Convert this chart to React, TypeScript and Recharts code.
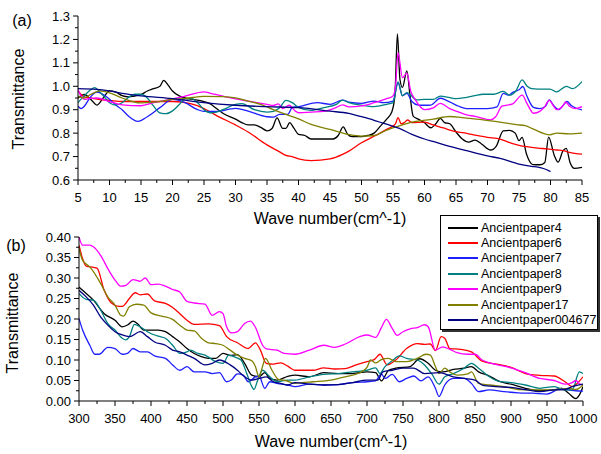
import React from 'react';
import { LineChart, Line, XAxis, YAxis, Legend, Label } from 'recharts';

type P = [number, number];
const FONT = '"Liberation Sans", Arial, Helvetica, sans-serif';

const seriesNames = ['Ancientpaper4', 'Ancientpaper6', 'Ancientpaper7', 'Ancientpaper8', 'Ancientpaper9', 'Ancientpaper17', 'Ancientpaper004677'];
const seriesColors = ['#000000', '#FF0000', '#1E1EFF', '#008080', '#FF00FF', '#808000', '#000080'];

// ---------- panel (a) ----------
const topXTicks = [5, 7.5, 10, 12.5, 15, 17.5, 20, 22.5, 25, 27.5, 30, 32.5, 35, 37.5, 40, 42.5, 45, 47.5, 50, 52.5, 55, 57.5, 60, 62.5, 65, 67.5, 70, 72.5, 75, 77.5, 80, 82.5, 85];
const topXLabels = [5, 10, 15, 20, 25, 30, 35, 40, 45, 50, 55, 60, 65, 70, 75, 80, 85];
const topYTicks = [0.6, 0.65, 0.7, 0.75, 0.8, 0.85, 0.9, 0.95, 1.0, 1.05, 1.1, 1.15, 1.2, 1.25, 1.3];
const topYLabels = [0.6, 0.7, 0.8, 0.9, 1.0, 1.1, 1.2, 1.3];

const a4: P[] = [[5,0.95],[6,0.965],[7,0.945],[8,0.92],[9,0.95],[10,0.98],[11,0.975],[12,0.96],[13,0.955],[15,0.965],[16,0.98],[17,0.99],[18,1.0],[18.6,1.025],[19.3,1.005],[20,0.98],[21,0.96],[22,0.95],[23,0.945],[25,0.935],[26,0.925],[27,0.905],[28,0.885],[30,0.86],[31,0.845],[32,0.835],[33,0.835],[34,0.825],[35,0.81],[35.8,0.82],[36.6,0.865],[37.5,0.82],[38,0.82],[38.6,0.845],[39.3,0.82],[40,0.795],[41,0.79],[42,0.775],[44,0.775],[45.5,0.775],[46.3,0.79],[47.1,0.827],[47.8,0.795],[48.5,0.785],[50,0.785],[51,0.79],[52,0.8],[53,0.83],[54,0.86],[54.8,0.89],[55.3,0.96],[55.7,1.224],[56.1,1.03],[56.5,0.995],[57.2,1.066],[57.7,0.96],[58.2,0.873],[59,0.86],[60,0.844],[61,0.823],[61.8,0.84],[62.5,0.863],[63.2,0.845],[64,0.84],[65,0.805],[66,0.775],[67,0.762],[68,0.77],[69,0.755],[70.5,0.728],[71.4,0.745],[72.5,0.81],[73.5,0.812],[74.4,0.8],[75,0.768],[75.5,0.782],[76.2,0.71],[77.2,0.666],[78.3,0.665],[79.1,0.675],[79.7,0.783],[80.6,0.705],[81.2,0.676],[82,0.725],[82.5,0.735],[83.1,0.675],[83.8,0.65],[85,0.654]];
const a6: P[] = [[5,0.98],[5.5,0.965],[6,0.955],[7,0.95],[8,0.945],[10,0.94],[12,0.935],[15,0.935],[20,0.935],[23,0.925],[25,0.905],[27,0.875],[30,0.835],[32,0.805],[35,0.75],[37,0.72],[38,0.705],[39,0.7],[40,0.69],[42,0.683],[45,0.69],[47,0.709],[48,0.723],[50,0.759],[52,0.787],[54,0.816],[55,0.83],[55.4,0.84],[55.8,0.866],[56.3,0.84],[56.8,0.845],[57.3,0.856],[58,0.845],[60,0.847],[61.4,0.835],[63,0.822],[65,0.806],[66.7,0.799],[68,0.792],[70,0.782],[72,0.774],[73,0.765],[74,0.755],[75,0.748],[76.2,0.742],[78,0.736],[79.4,0.733],[81,0.728],[82,0.725],[83,0.718],[85,0.71]];
const a7: P[] = [[5,0.915],[5.5,0.905],[6,0.915],[7,0.955],[8,0.975],[9,0.965],[10,0.945],[11,0.92],[12,0.9],[13,0.873],[14.5,0.85],[16,0.87],[18,0.909],[20,0.944],[22,0.93],[24,0.9],[25,0.893],[27,0.893],[30,0.906],[32,0.894],[35,0.87],[36,0.868],[37,0.88],[38.3,0.88],[39,0.909],[40,0.913],[43,0.93],[45,0.923],[47,0.941],[48,0.932],[50,0.927],[52,0.937],[53.5,0.93],[55,0.937],[55.8,1.016],[56.5,0.959],[57.2,0.97],[58,0.935],[59,0.92],[60,0.919],[61,0.92],[62.5,0.949],[63.5,0.94],[65,0.92],[66.7,0.905],[68,0.905],[70,0.905],[71.5,0.912],[72.5,0.97],[73.3,0.962],[74,0.974],[75,0.985],[75.6,0.999],[76.3,0.955],[77.3,0.91],[78.3,0.905],[79.2,0.915],[79.8,0.942],[80.5,0.918],[81.3,0.9],[82,0.918],[82.6,0.935],[83.3,0.918],[85,0.899]];
const a8: P[] = [[5,0.93],[6,0.96],[7,0.985],[7.6,0.994],[8.5,0.975],[9,0.96],[10,0.93],[11,0.92],[12,0.93],[13,0.952],[14,0.966],[15,0.966],[16,0.95],[17,0.915],[18,0.887],[19,0.883],[20,0.895],[21,0.92],[22,0.946],[23,0.947],[24,0.93],[25,0.9],[26,0.887],[27,0.89],[28,0.9],[30,0.923],[31,0.926],[33,0.9],[35,0.89],[36,0.893],[37,0.908],[38,0.94],[39,0.93],[40,0.91],[42,0.897],[44,0.909],[46,0.923],[47,0.941],[48,0.93],[50,0.919],[52,0.913],[54,0.923],[55,0.93],[55.8,1.019],[56.5,0.96],[57.2,0.973],[58.8,0.942],[60,0.944],[61.4,0.944],[62.5,0.958],[64,0.952],[65,0.947],[66.7,0.953],[68,0.96],[69.3,0.966],[71,0.966],[72.5,0.978],[73.5,0.962],[74.5,0.98],[75.5,1.027],[76.3,1.0],[77,0.99],[78,0.988],[79.9,0.988],[81,0.976],[82.5,1.0],[83.5,0.99],[85,1.02]];
const a9: P[] = [[5,0.985],[6,0.944],[7,0.948],[8,0.95],[10,0.935],[12,0.921],[15,0.917],[17,0.93],[20,0.946],[22,0.958],[25,0.976],[26,0.97],[28,0.958],[30,0.946],[32,0.937],[35,0.923],[36,0.918],[36.8,0.925],[37.5,0.905],[38.5,0.919],[39.5,0.894],[40,0.887],[42,0.89],[44,0.893],[46,0.91],[47,0.921],[48,0.912],[50,0.916],[52,0.93],[54,0.947],[55,0.959],[55.4,1.0],[55.8,1.144],[56.5,1.037],[57.2,1.056],[57.8,0.98],[58.5,0.944],[60,0.9],[61.4,0.908],[62.5,0.927],[64,0.905],[65,0.894],[66.7,0.878],[68,0.872],[70.5,0.857],[71.3,0.87],[72.3,0.915],[74,0.925],[75.5,0.962],[76.3,0.925],[77.3,0.885],[78.3,0.893],[79,0.91],[79.8,0.94],[80.5,0.915],[81,0.9],[82,0.918],[82.4,0.933],[83,0.915],[84,0.905],[85,0.913]];
const a17: P[] = [[5,0.957],[6,0.95],[7,0.965],[8.5,0.98],[10,0.972],[12,0.95],[15,0.929],[17,0.932],[20,0.944],[22,0.948],[25,0.957],[28,0.956],[30,0.951],[32,0.937],[34,0.923],[36,0.9],[38,0.88],[40,0.861],[42,0.837],[45,0.816],[48,0.794],[50,0.787],[52,0.79],[54,0.813],[56,0.831],[58,0.847],[61.4,0.86],[64,0.871],[66,0.866],[69.3,0.857],[72,0.847],[74.6,0.836],[76,0.832],[77.3,0.817],[79.9,0.793],[81,0.8],[83,0.797],[85,0.8]];
const a004677: P[] = [[5,0.99],[8,0.987],[10,0.98],[12,0.97],[15,0.959],[20,0.947],[25,0.93],[30,0.919],[35,0.913],[40,0.909],[45,0.894],[48,0.884],[50,0.87],[52,0.855],[54,0.838],[56,0.82],[58,0.795],[60,0.775],[62,0.76],[64,0.743],[66,0.73],[68,0.716],[70,0.703],[72,0.692],[75,0.668],[77,0.658],[78,0.655],[79,0.648],[80,0.636]];

// ---------- panel (b) ----------
const botXTicks = [300, 325, 350, 375, 400, 425, 450, 475, 500, 525, 550, 575, 600, 625, 650, 675, 700, 725, 750, 775, 800, 825, 850, 875, 900, 925, 950, 975, 1000];
const botXLabels = [300, 350, 400, 450, 500, 550, 600, 650, 700, 750, 800, 850, 900, 950, 1000];
const botYTicks = [0, 0.025, 0.05, 0.075, 0.1, 0.125, 0.15, 0.175, 0.2, 0.225, 0.25, 0.275, 0.3, 0.325, 0.35, 0.375, 0.4];
const botYLabels = [0, 0.05, 0.1, 0.15, 0.2, 0.25, 0.3, 0.35, 0.4];

const b4: P[] = [[300,0.278],[305,0.27],[320,0.246],[335,0.213],[350,0.197],[360,0.181],[368,0.186],[375,0.195],[382,0.187],[390,0.173],[400,0.173],[410,0.173],[420,0.169],[430,0.157],[440,0.144],[450,0.128],[460,0.116],[470,0.108],[480,0.104],[490,0.104],[500,0.116],[510,0.111],[520,0.113],[530,0.092],[540,0.063],[550,0.059],[558,0.069],[565,0.055],[575,0.051],[590,0.06],[600,0.063],[620,0.059],[640,0.069],[660,0.067],[680,0.067],[700,0.071],[712,0.069],[720,0.049],[730,0.075],[740,0.08],[760,0.084],[773,0.103],[785,0.092],[795,0.075],[805,0.071],[820,0.077],[835,0.08],[845,0.084],[855,0.071],[870,0.061],[880,0.051],[890,0.045],[900,0.041],[920,0.031],[940,0.025],[960,0.027],[970,0.031],[980,0.019],[990,0.006],[995,0.015],[1000,0.035]];
const b6: P[] = [[300,0.38],[305,0.347],[310,0.329],[320,0.326],[325,0.324],[335,0.27],[345,0.239],[355,0.231],[360,0.231],[370,0.25],[378,0.264],[385,0.259],[395,0.261],[405,0.244],[420,0.238],[430,0.228],[440,0.213],[450,0.197],[460,0.187],[480,0.188],[495,0.184],[505,0.157],[520,0.142],[535,0.128],[545,0.142],[552,0.124],[560,0.092],[570,0.09],[580,0.093],[590,0.085],[600,0.075],[610,0.075],[625,0.075],[640,0.081],[655,0.078],[670,0.079],[685,0.088],[700,0.096],[710,0.101],[718,0.114],[728,0.088],[740,0.1],[755,0.128],[770,0.14],[780,0.138],[788,0.139],[795,0.123],[803,0.157],[808,0.153],[815,0.128],[830,0.126],[845,0.12],[860,0.097],[880,0.09],[900,0.082],[920,0.067],[940,0.0625],[960,0.061],[975,0.047],[985,0.035],[992,0.043],[1000,0.059]];
const b7: P[] = [[300,0.201],[305,0.173],[315,0.136],[322,0.114],[328,0.114],[340,0.131],[350,0.128],[360,0.114],[368,0.117],[375,0.128],[385,0.12],[395,0.12],[405,0.11],[420,0.104],[430,0.088],[440,0.075],[450,0.084],[460,0.071],[475,0.071],[485,0.067],[495,0.069],[505,0.047],[512,0.052],[520,0.066],[528,0.063],[535,0.047],[545,0.059],[550,0.061],[558,0.031],[565,0.047],[575,0.043],[590,0.039],[600,0.035],[620,0.041],[640,0.039],[660,0.04],[680,0.045],[700,0.047],[712,0.049],[720,0.066],[725,0.055],[735,0.065],[745,0.047],[755,0.055],[765,0.061],[775,0.049],[785,0.059],[795,0.031],[800,0.011],[808,0.039],[820,0.055],[835,0.055],[845,0.043],[855,0.023],[870,0.027],[890,0.023],[910,0.02],[930,0.019],[950,0.017],[970,0.031],[980,0.027],[990,0.025],[1000,0.024]];
const b8: P[] = [[300,0.262],[310,0.248],[320,0.246],[330,0.222],[340,0.189],[350,0.173],[360,0.153],[365,0.149],[370,0.157],[377,0.187],[385,0.181],[395,0.169],[410,0.158],[420,0.153],[430,0.136],[440,0.116],[450,0.12],[455,0.124],[465,0.116],[475,0.112],[490,0.096],[500,0.092],[508,0.112],[515,0.108],[525,0.1],[533,0.067],[540,0.035],[543,0.028],[548,0.05],[555,0.075],[565,0.059],[575,0.047],[590,0.051],[600,0.051],[620,0.059],[640,0.065],[660,0.067],[680,0.071],[700,0.075],[712,0.081],[718,0.067],[725,0.084],[735,0.098],[745,0.11],[755,0.104],[770,0.1],[780,0.088],[790,0.066],[800,0.041],[808,0.059],[820,0.067],[835,0.08],[845,0.092],[855,0.08],[870,0.059],[885,0.047],[900,0.045],[920,0.039],[940,0.031],[960,0.035],[975,0.027],[985,0.027],[995,0.071],[1000,0.067]];
const b9: P[] = [[300,0.4],[305,0.38],[315,0.38],[320,0.376],[330,0.355],[340,0.323],[350,0.295],[358,0.28],[365,0.282],[375,0.296],[385,0.292],[392,0.3],[400,0.284],[410,0.285],[420,0.28],[430,0.272],[440,0.266],[450,0.243],[460,0.239],[475,0.236],[485,0.209],[495,0.218],[500,0.213],[505,0.181],[512,0.166],[520,0.169],[530,0.189],[538,0.195],[545,0.18],[555,0.136],[560,0.127],[575,0.124],[585,0.116],[600,0.114],[620,0.124],[640,0.136],[655,0.131],[670,0.139],[690,0.157],[700,0.161],[712,0.155],[720,0.179],[727,0.199],[735,0.177],[742,0.16],[750,0.169],[760,0.176],[770,0.179],[780,0.186],[785,0.181],[795,0.124],[805,0.132],[815,0.126],[825,0.118],[840,0.114],[850,0.114],[860,0.1],[870,0.093],[880,0.089],[900,0.081],[920,0.069],[940,0.055],[960,0.05],[975,0.041],[985,0.045],[990,0.05],[995,0.042],[1000,0.039]];
const b17: P[] = [[300,0.372],[305,0.343],[315,0.327],[330,0.287],[340,0.254],[350,0.234],[358,0.209],[362,0.207],[370,0.23],[380,0.236],[390,0.234],[400,0.215],[415,0.207],[430,0.199],[440,0.185],[450,0.173],[460,0.171],[470,0.153],[480,0.142],[490,0.14],[500,0.136],[510,0.124],[520,0.112],[530,0.104],[540,0.098],[545,0.084],[550,0.059],[555,0.085],[559,0.104],[568,0.075],[577,0.053],[587,0.05],[600,0.043],[610,0.045],[625,0.047],[650,0.051],[670,0.059],[690,0.069],[700,0.082],[705,0.1],[712,0.093],[720,0.101],[730,0.104],[740,0.096],[755,0.096],[770,0.104],[782,0.114],[788,0.112],[795,0.084],[800,0.067],[808,0.08],[815,0.071],[825,0.063],[840,0.066],[845,0.071],[855,0.043],[870,0.039],[890,0.035],[910,0.028],[930,0.027],[960,0.027],[980,0.031],[990,0.028],[1000,0.039]];
const b004677: P[] = [[300,0.27],[310,0.254],[320,0.234],[330,0.205],[340,0.185],[350,0.169],[360,0.161],[370,0.157],[385,0.169],[395,0.157],[405,0.144],[420,0.136],[430,0.124],[440,0.12],[450,0.112],[460,0.104],[475,0.088],[485,0.092],[495,0.1],[510,0.088],[520,0.075],[530,0.059],[540,0.051],[550,0.055],[560,0.059],[570,0.047],[580,0.043],[590,0.039],[600,0.045],[620,0.041],[640,0.039],[660,0.04],[680,0.045],[700,0.051],[715,0.051],[722,0.071],[735,0.075],[750,0.08],[765,0.08],[780,0.067],[800,0.069],[820,0.059],[835,0.055],[850,0.051],[860,0.039],[880,0.035],[900,0.033],[920,0.028],[940,0.023],[960,0.027],[975,0.028],[985,0.035],[1000,0.041]];

const topSeries = [a4, a6, a7, a8, a9, a17, a004677];
const botSeries = [b4, b6, b7, b8, b9, b17, b004677];

const toRows = (pts: P[]) => pts.map(([x, y]) => ({ x, y }));
const isIn = (list: number[], v: number) => list.some((m) => Math.abs(m - v) < 1e-9);

const makeXTick = (majors: number[], fmt: (v: number) => string) => (props: any) => {
  const { x, y, payload } = props;
  const v = payload.value as number;
  const major = isIn(majors, v);
  return (
    <g>
      <line x1={x} y1={y} x2={x} y2={y + (major ? 5 : 3)} stroke="#000" strokeWidth={1} />
      {major && (
        <text x={x} y={y + 17} textAnchor="middle" dominantBaseline="central" fontSize={13} fontFamily={FONT} fill="#000">
          {fmt(v)}
        </text>
      )}
    </g>
  );
};

const makeYTick = (majors: number[], fmt: (v: number) => string) => (props: any) => {
  const { x, y, payload } = props;
  const v = payload.value as number;
  const major = isIn(majors, v);
  return (
    <g>
      <line x1={x} y1={y} x2={x - (major ? 5 : 3)} y2={y} stroke="#000" strokeWidth={1} />
      {major && (
        <text x={x - 8} y={y} textAnchor="end" dominantBaseline="central" fontSize={13} fontFamily={FONT} fill="#000">
          {fmt(v)}
        </text>
      )}
    </g>
  );
};

const absText = (x: number, y: number, text: string, size: number, rotate = false) => () => (
  <text
    x={x}
    y={y}
    textAnchor="middle"
    dominantBaseline="central"
    fontSize={size}
    fontFamily={FONT}
    fill="#000"
    transform={rotate ? `rotate(-90 ${x} ${y})` : undefined}
  >
    {text}
  </text>
);

const LegendBox = () => (
  <div
    style={{
      border: '1px solid #000',
      boxShadow: '2px 2px 0 #333',
      background: '#fff',
      padding: '4px 0 1px 7px',
      fontFamily: FONT,
      fontSize: 12.5,
      color: '#000',
      boxSizing: 'border-box',
      width: 158,
    }}
  >
    {seriesNames.map((name, i) => (
      <div key={name} style={{ display: 'flex', alignItems: 'center', height: 15.4, whiteSpace: 'nowrap' }}>
        <span style={{ display: 'inline-block', width: 30, height: 2, background: seriesColors[i], marginRight: 3 }} />
        <span>{name}</span>
      </div>
    ))}
  </div>
);

export default function App() {
  return (
    <div style={{ position: 'absolute', left: 0, top: 0, width: 601, height: 454, background: '#fff' }}>
      <div style={{ position: 'absolute', left: 0, top: 0 }}>
        <LineChart width={601} height={230} margin={{ top: 16, right: 19, bottom: 5, left: 0 }}>
          <XAxis
            type="number"
            dataKey="x"
            domain={[5, 85]}
            ticks={topXTicks}
            interval={0}
            tickSize={0}
            tickMargin={0}
            height={45}
            axisLine={{ stroke: '#000' }}
            tickLine={false}
            tick={makeXTick(topXLabels, (v) => String(v))}
            allowDataOverflow
          >
            <Label content={absText(330, 218, 'Wave number(cm^-1)', 16)} />
          </XAxis>
          <YAxis
            type="number"
            domain={[0.6, 1.3]}
            ticks={topYTicks}
            interval={0}
            tickSize={0}
            tickMargin={0}
            width={78}
            axisLine={{ stroke: '#000' }}
            tickLine={false}
            tick={makeYTick(topYLabels, (v) => v.toFixed(1))}
            allowDataOverflow
          >
            <Label content={absText(18.5, 99, 'Transmittance', 16, true)} />
          </YAxis>
          {topSeries.map((s, i) => (
            <Line
              key={seriesNames[i]}
              data={toRows(s)}
              dataKey="y"
              name={seriesNames[i]}
              type="monotone"
              stroke={seriesColors[i]}
              strokeWidth={1.3}
              dot={false}
              activeDot={false}
              isAnimationActive={false}
            />
          ))}
        </LineChart>
        <svg width={40} height={30} style={{ position: 'absolute', left: 0, top: 5 }}>
          <text x={22} y={15} textAnchor="middle" dominantBaseline="central" fontSize={16} fontFamily={FONT} fill="#000">(a)</text>
        </svg>
      </div>
      <div style={{ position: 'absolute', left: 0, top: 200 }}>
        <LineChart width={601} height={254} margin={{ top: 37, right: 18, bottom: 8, left: 0 }}>
          <XAxis
            type="number"
            dataKey="x"
            domain={[300, 1000]}
            ticks={botXTicks}
            interval={0}
            tickSize={0}
            tickMargin={0}
            height={45}
            axisLine={{ stroke: '#000' }}
            tickLine={false}
            tick={makeXTick(botXLabels, (v) => String(v))}
            allowDataOverflow
          >
            <Label content={absText(331, 241, 'Wave number(cm^-1)', 16)} />
          </XAxis>
          <YAxis
            type="number"
            domain={[0, 0.4]}
            ticks={botYTicks}
            interval={0}
            tickSize={0}
            tickMargin={0}
            width={79}
            axisLine={{ stroke: '#000' }}
            tickLine={false}
            tick={makeYTick(botYLabels, (v) => v.toFixed(2))}
            allowDataOverflow
          >
            <Label content={absText(12.5, 123, 'Transmittance', 16, true)} />
          </YAxis>
          <Legend
            layout="horizontal"
            verticalAlign="middle"
            align="center"
            content={<LegendBox />}
            wrapperStyle={{ position: 'absolute', left: 440, top: 15, width: 158, height: 'auto' }}
          />
          {botSeries.map((s, i) => (
            <Line
              key={seriesNames[i]}
              data={toRows(s)}
              dataKey="y"
              name={seriesNames[i]}
              type="monotone"
              stroke={seriesColors[i]}
              strokeWidth={1.3}
              dot={false}
              activeDot={false}
              isAnimationActive={false}
            />
          ))}
        </LineChart>
        <svg width={40} height={30} style={{ position: 'absolute', left: 0, top: 30 }}>
          <text x={16} y={15} textAnchor="middle" dominantBaseline="central" fontSize={16} fontFamily={FONT} fill="#000">(b)</text>
        </svg>
      </div>
    </div>
  );
}
